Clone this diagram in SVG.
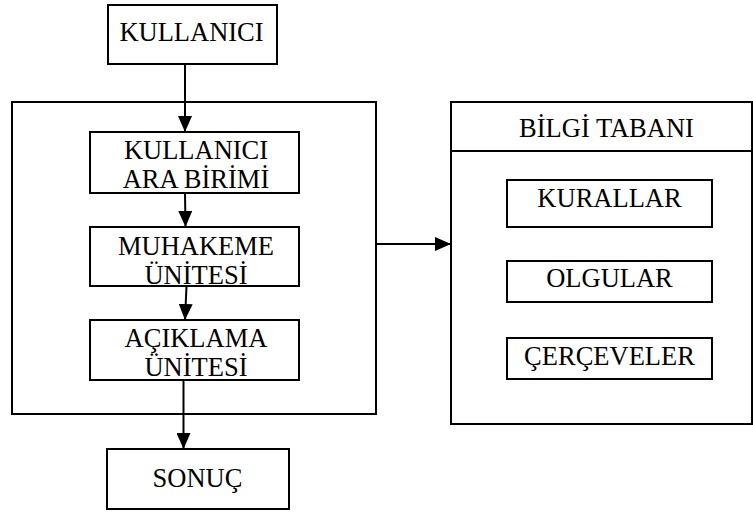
<svg xmlns="http://www.w3.org/2000/svg" width="753" height="514" viewBox="0 0 753 514">
<style>
.box{fill:#fff;stroke:#000;stroke-width:2}
.frame{fill:none;stroke:#000;stroke-width:2}
.lbl{font-family:"Liberation Serif","Times New Roman",serif;font-size:26.5px;text-anchor:middle;fill:#000}
.conn{stroke:#000;stroke-width:2;fill:none}
</style>
<defs>
<marker id="ah" markerUnits="userSpaceOnUse" markerWidth="16" markerHeight="14" refX="16" refY="7" orient="auto">
<polygon points="0,0 16,7 0,14" fill="#000"/>
</marker>
</defs>
<g id="system">
<rect class="frame" x="12" y="102" width="364" height="312"/>
</g>
<g id="kullanici">
<rect class="box" x="108" y="5" width="169" height="59"/>
<text class="lbl" x="191.5" y="41">KULLANICI</text>
</g>
<g id="arabirim">
<rect class="box" x="90" y="132" width="209" height="61"/>
<text class="lbl" x="196" y="159">KULLANICI</text>
<text class="lbl" x="196" y="188">ARA BİRİMİ</text>
</g>
<g id="muhakeme">
<rect class="box" x="90" y="227" width="209" height="59"/>
<text class="lbl" x="196" y="255">MUHAKEME</text>
<text class="lbl" x="196" y="284">ÜNİTESİ</text>
</g>
<g id="aciklama">
<rect class="box" x="90" y="320" width="209" height="60"/>
<text class="lbl" x="196" y="347">AÇIKLAMA</text>
<text class="lbl" x="196" y="376">ÜNİTESİ</text>
</g>
<g id="sonuc">
<rect class="box" x="107" y="449" width="182" height="60"/>
<text class="lbl" x="197.5" y="487">SONUÇ</text>
</g>
<g id="bilgitabani">
<rect class="box" x="451" y="102" width="301" height="322"/>
<line x1="451" y1="151" x2="752" y2="151" stroke="#000" stroke-width="2"/>
<text class="lbl" x="606.5" y="137">BİLGİ TABANI</text>
</g>
<g id="kurallar">
<rect class="box" x="507" y="180" width="205" height="47"/>
<text class="lbl" x="609.5" y="207">KURALLAR</text>
</g>
<g id="olgular">
<rect class="box" x="507" y="261" width="205" height="41"/>
<text class="lbl" x="609.5" y="287">OLGULAR</text>
</g>
<g id="cerceveler">
<rect class="box" x="507" y="338" width="205" height="41"/>
<text class="lbl" x="609.5" y="365">ÇERÇEVELER</text>
</g>
<g id="connectors">
<line class="conn" x1="185" y1="64" x2="185" y2="132" marker-end="url(#ah)"/>
<line class="conn" x1="185" y1="193" x2="185.5" y2="227" marker-end="url(#ah)"/>
<line class="conn" x1="186.5" y1="286" x2="185" y2="320" marker-end="url(#ah)"/>
<line class="conn" x1="183.5" y1="380" x2="183.5" y2="449" marker-end="url(#ah)"/>
<line class="conn" x1="376" y1="244" x2="451" y2="244" marker-end="url(#ah)"/>
</g>
</svg>
